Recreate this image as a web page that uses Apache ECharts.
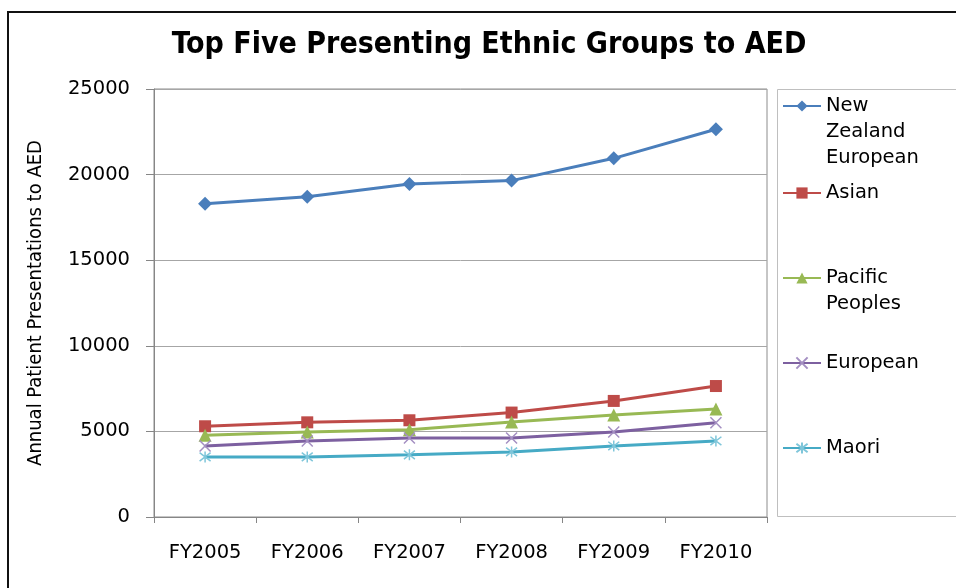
<!DOCTYPE html>
<html>
<head>
<meta charset="utf-8">
<script src="https://cdn.jsdelivr.net/npm/echarts@6/dist/echarts.min.js"></script>
<style>
  html, body { margin: 0; padding: 0; background: #fff; }
  #chart { width: 956px; height: 588px; }
</style>
</head>
<body>
<div id="chart"></div>
<script>
// Fiscal years on the category axis
const years = ['FY2005', 'FY2006', 'FY2007', 'FY2008', 'FY2009', 'FY2010'];

// Annual patient presentations per ethnic group
const nzEuropean = [18300, 18700, 19450, 19650, 20950, 22650];
const asian      = [5300, 5530, 5650, 6100, 6780, 7650];
const pacific    = [4770, 4970, 5090, 5550, 5960, 6310];
const european   = [4150, 4440, 4620, 4620, 4970, 5500];
const maori      = [3510, 3510, 3630, 3800, 4150, 4440];

// Value axis ticks
const yTicks = [0, 5000, 10000, 15000, 20000, 25000];

const tickFont = 'DejaVu Sans';
const narrowFont = '"Liberation Sans Narrow", "DejaVu Sans Condensed", sans-serif';

const crossPath = 'path://M0 0L10 10M10 0L0 10';
const starPath = 'path://M0 0L10 10M10 0L0 10M5 -1.5L5 11.5';

function lineSeries(name, data, color, symbol, size, markerStyle) {
  return {
    name: name,
    type: 'line',
    data: data,
    symbol: symbol,
    symbolSize: size,
    showSymbol: true,
    lineStyle: { color: color, width: 3 },
    itemStyle: markerStyle || { color: color },
    emphasis: { disabled: true },
    z: 3
  };
}

const seriesList = [
  lineSeries('New Zealand European', nzEuropean, '#4A7EBB', 'diamond', 14),
  lineSeries('Asian', asian, '#BE4B48', 'rect', 12),
  lineSeries('Pacific Peoples', pacific, '#98B954', 'triangle', 13),
  lineSeries('European', european, '#7D60A0', crossPath, 11,
    { color: 'transparent', borderColor: '#A48FC2', borderWidth: 1.5 }),
  lineSeries('Maori', maori, '#46AAC5', starPath, 11,
    { color: 'transparent', borderColor: '#7FC6DA', borderWidth: 1.5 })
];

// One legend block per series; wrapped names are padded with blank lines
// above so the icon lines up with the first text line.
const legendRows = [
  { name: 'New Zealand European', lines: ['New', 'Zealand', 'European'], centerY: 106 },
  { name: 'Asian', lines: ['Asian'], centerY: 193 },
  { name: 'Pacific Peoples', lines: ['Pacific', 'Peoples'], centerY: 278 },
  { name: 'European', lines: ['European'], centerY: 363 },
  { name: 'Maori', lines: ['Maori'], centerY: 448 }
];
const legendLine = 26;
const legends = legendRows.map(function (row) {
  const n = row.lines.length;
  const label = new Array(n - 1).fill('').concat(row.lines).join('\n');
  const blockH = (2 * n - 1) * legendLine;
  return {
    data: [row.name],
    left: 782,
    top: row.centerY - blockH / 2,
    padding: 0,
    itemWidth: 38,
    itemHeight: 14,
    selectedMode: false,
    formatter: function () { return label; },
    textStyle: {
      fontFamily: tickFont,
      fontSize: 19.5,
      color: '#000',
      lineHeight: legendLine
    }
  };
});

const chart = echarts.init(document.getElementById('chart'), null, { renderer: 'canvas' });
chart.setOption({
  animation: false,
  backgroundColor: '#fff',
  title: {
    text: 'Top Five Presenting Ethnic Groups to AED',
    left: 484,
    top: 25,
    textAlign: 'center',
    textStyle: { fontFamily: narrowFont, fontWeight: 'bold', fontSize: 30, color: '#000' }
  },
  legend: legends,
  grid: {
    left: 154, right: 189, top: 89, bottom: 71,
    show: true, borderColor: '#8C8C8C', borderWidth: 1, backgroundColor: 'transparent'
  },
  xAxis: {
    type: 'category',
    data: years,
    boundaryGap: true,
    axisLine: { lineStyle: { color: '#868686', width: 1 } },
    axisTick: { show: true, length: 6, alignWithLabel: false, lineStyle: { color: '#868686' } },
    axisLabel: { fontFamily: tickFont, fontSize: 19.5, color: '#000', margin: 26 },
    splitLine: { show: false }
  },
  yAxis: {
    type: 'value',
    min: yTicks[0],
    max: yTicks[yTicks.length - 1],
    interval: yTicks[1] - yTicks[0],
    name: 'Annual Patient Presentations to AED',
    nameLocation: 'middle',
    nameRotate: 90,
    nameGap: 108,
    nameTextStyle: { fontFamily: narrowFont, fontSize: 20, color: '#000' },
    axisLine: { show: true, lineStyle: { color: '#868686', width: 1 } },
    axisTick: { show: true, length: 8, lineStyle: { color: '#868686' } },
    axisLabel: {
      fontFamily: tickFont, fontSize: 19.5, color: '#000', margin: 24,
      formatter: function (v) { return String(v); }
    },
    splitLine: { show: true, lineStyle: { color: '#A6A6A6', width: 1 } }
  },
  graphic: [
    {
      type: 'rect',
      shape: { x: 8, y: 12, width: 1000, height: 700 },
      style: { fill: 'none', stroke: '#111', lineWidth: 2 },
      silent: true
    },
    {
      type: 'rect',
      shape: { x: 777.5, y: 89.5, width: 300, height: 427 },
      style: { fill: 'none', stroke: '#BFBFBF', lineWidth: 1 },
      silent: true
    }
  ],
  series: seriesList
});
</script>
</body>
</html>
